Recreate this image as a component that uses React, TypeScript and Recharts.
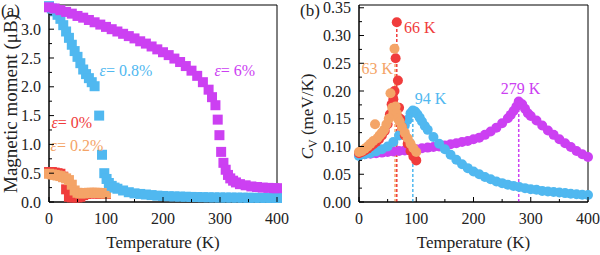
import React from 'react';
import { ScatterChart, Scatter, XAxis, YAxis, ReferenceLine, ReferenceArea, ReferenceDot } from 'recharts';

const FONT = "'Liberation Serif', 'Times New Roman', serif";
const PURPLE = '#CC40F2';
const BLUE = '#50B8F0';
const RED = '#F03C3C';
const ORANGE = '#F4A467';
const INK = '#222';

// (a) magnetic moment (muB) vs temperature (K)
const tempM6 = [0, 10, 20, 30, 40, 50, 60, 70, 80, 90, 100, 110, 120, 130, 140, 150, 160, 170, 180, 190, 200, 210, 220, 230, 240, 250, 260, 270, 280, 286, 292, 296, 299, 302, 306, 310, 314, 318, 323, 328, 335, 345, 355, 365, 375, 385, 395, 400];
const momentM6 = [3.38, 3.36, 3.33, 3.3, 3.27, 3.23, 3.2, 3.16, 3.12, 3.08, 3.04, 3.0, 2.96, 2.92, 2.88, 2.84, 2.79, 2.75, 2.7, 2.65, 2.6, 2.55, 2.49, 2.43, 2.36, 2.28, 2.19, 2.08, 1.95, 1.82, 1.68, 1.43, 1.16, 0.87, 0.68, 0.56, 0.47, 0.41, 0.37, 0.34, 0.31, 0.29, 0.27, 0.26, 0.25, 0.245, 0.24, 0.24];

const tempM08 = [0, 5, 10, 15, 20, 25, 30, 35, 40, 45, 50, 55, 60, 65, 70, 75, 80, 88, 93, 97, 101, 105, 110, 115, 120, 130, 140, 150, 160, 170, 180, 190, 200, 210, 220, 230, 240, 250, 260, 270, 280, 290, 300, 310, 320, 330, 340, 350, 360, 370, 380, 390, 400];
const momentM08 = [3.4, 3.36, 3.31, 3.25, 3.18, 3.07, 2.96, 2.85, 2.73, 2.62, 2.52, 2.41, 2.3, 2.22, 2.15, 2.08, 2.01, 1.5, 0.82, 0.5, 0.4, 0.33, 0.28, 0.25, 0.23, 0.2, 0.17, 0.15, 0.14, 0.13, 0.12, 0.11, 0.105, 0.1, 0.097, 0.094, 0.091, 0.088, 0.086, 0.084, 0.082, 0.08, 0.079, 0.078, 0.077, 0.076, 0.075, 0.074, 0.073, 0.072, 0.071, 0.07, 0.07];

const tempM0 = [0, 5, 10, 15, 20, 25, 30, 35, 40, 45, 50, 55, 60, 65, 70, 75, 80, 85, 90, 95, 100];
const momentM0 = [0.52, 0.52, 0.51, 0.5, 0.49, 0.44, 0.22, 0.09, 0.08, 0.08, 0.08, 0.09, 0.12, 0.14, 0.15, 0.15, 0.15, 0.15, 0.145, 0.14, 0.14];

const tempM02 = [0, 5, 10, 15, 20, 25, 30, 35, 40, 45, 50, 55, 60, 65, 70, 75, 80, 85, 90, 95, 100];
const momentM02 = [0.49, 0.48, 0.47, 0.46, 0.45, 0.43, 0.41, 0.38, 0.3, 0.2, 0.16, 0.15, 0.15, 0.155, 0.16, 0.16, 0.16, 0.16, 0.155, 0.15, 0.15];

// (b) specific heat (meV/K) vs temperature (K)
const tempCv6 = [0, 10, 20, 30, 40, 50, 60, 70, 80, 90, 100, 110, 120, 130, 140, 150, 160, 170, 180, 190, 200, 210, 220, 230, 240, 250, 260, 265, 270, 275, 279, 285, 290, 295, 300, 310, 320, 330, 340, 350, 360, 370, 380, 390, 400];
const cv6 = [0.085, 0.086, 0.087, 0.088, 0.089, 0.09, 0.091, 0.092, 0.093, 0.094, 0.095, 0.097, 0.098, 0.099, 0.1, 0.102, 0.104, 0.106, 0.108, 0.11, 0.113, 0.116, 0.121, 0.127, 0.134, 0.142, 0.151, 0.157, 0.164, 0.172, 0.181, 0.176, 0.168, 0.16, 0.155, 0.147, 0.138, 0.129, 0.121, 0.113, 0.106, 0.099, 0.092, 0.086, 0.081];

const tempCv08 = [0, 10, 20, 30, 40, 50, 60, 70, 80, 85, 90, 94, 98, 102, 106, 110, 115, 120, 130, 140, 150, 160, 170, 180, 190, 200, 210, 220, 230, 240, 250, 260, 270, 280, 290, 300, 310, 320, 330, 340, 350, 360, 370, 380, 390, 400];
const cv08 = [0.083, 0.086, 0.088, 0.091, 0.095, 0.1, 0.108, 0.12, 0.138, 0.148, 0.16, 0.165, 0.163, 0.158, 0.152, 0.145, 0.137, 0.13, 0.117, 0.105, 0.095, 0.085, 0.076, 0.068, 0.061, 0.055, 0.05, 0.045, 0.041, 0.037, 0.034, 0.031, 0.029, 0.027, 0.025, 0.023, 0.022, 0.02, 0.019, 0.018, 0.017, 0.016, 0.015, 0.014, 0.013, 0.0125];

const tempCv0 = [0, 5, 10, 15, 20, 25, 30, 35, 40, 45, 50, 54, 57, 60, 62, 64, 66, 68, 70, 72, 75, 80, 85, 90, 95, 100];
const cv0 = [0.088, 0.09, 0.093, 0.096, 0.1, 0.104, 0.108, 0.113, 0.12, 0.128, 0.14, 0.158, 0.176, 0.185, 0.2, 0.259, 0.324, 0.219, 0.17, 0.15, 0.135, 0.12, 0.105, 0.092, 0.082, 0.075];

const tempCv02 = [0, 5, 10, 15, 20, 25, 28, 32, 36, 40, 44, 48, 52, 55, 58, 60, 62, 64, 66, 68, 71, 75, 80, 85, 90, 95, 100];
const cv02 = [0.09, 0.092, 0.096, 0.1, 0.105, 0.11, 0.14, 0.115, 0.12, 0.125, 0.13, 0.14, 0.15, 0.196, 0.17, 0.16, 0.276, 0.172, 0.16, 0.15, 0.145, 0.135, 0.125, 0.115, 0.105, 0.097, 0.09];

// transition temperatures and peak heights
const peakTemps = [66, 63, 94, 279];
const peakCv = [0.324, 0.276, 0.165, 0.181];
const peakNames = ['66 K', '63 K', '94 K', '279 K'];
const peakColors = [RED, ORANGE, BLUE, PURPLE];

const tempTicks = [0, 50, 100, 150, 200, 250, 300, 350, 400];
const momentTicks = [0, 0.25, 0.5, 0.75, 1, 1.25, 1.5, 1.75, 2, 2.25, 2.5, 2.75, 3, 3.25];
const cvTicks = [0, 0.025, 0.05, 0.075, 0.1, 0.125, 0.15, 0.175, 0.2, 0.225, 0.25, 0.275, 0.3, 0.325, 0.35];

// label anchors (data coordinates)
const strainLabels = [
  { x: 135, y: 2.29, text: '0.8%', color: BLUE },
  { x: 326, y: 2.29, text: '6%', color: PURPLE },
  { x: 40, y: 1.38, text: '0%', color: RED },
  { x: 49, y: 0.99, text: '0.2%', color: ORANGE },
];
const peakLabelPos = [
  { x: 106, y: 0.315 },
  { x: 32, y: 0.24 },
  { x: 125, y: 0.187 },
  { x: 282, y: 0.204 },
];

const pts = (xs: number[], ys: number[]) => xs.map((x, i) => ({ x, y: ys[i] }));

const isMajor = (v: number, step: number) => Math.abs(v / step - Math.round(v / step)) < 1e-6;

const txt = (size: number, color = INK) => ({ fontFamily: FONT, fontSize: size, fill: color });

const Square = (p: any) => <rect x={p.cx - 5} y={p.cy - 5} width={10} height={10} fill={p.fill} />;
const Dot = (p: any) => <circle cx={p.cx} cy={p.cy} r={5} fill={p.fill} />;

const XTick = (p: any) => {
  const major = isMajor(p.payload.value, 100);
  return (
    <g>
      <line x1={p.x} x2={p.x} y1={p.y} y2={p.y - (major ? 5 : 3)} stroke="#000" />
      {major && (
        <text x={p.x} y={p.y + 16} dy="0.35em" textAnchor="middle" style={txt(16)}>
          {p.payload.value}
        </text>
      )}
    </g>
  );
};

const makeYTick = (step: number, digits: number) => (p: any) => {
  const major = isMajor(p.payload.value, step);
  return (
    <g>
      <line x1={p.x} x2={p.x + (major ? 5 : 3)} y1={p.y} y2={p.y} stroke="#000" />
      {major && (
        <text x={p.x - 8} y={p.y} dy="0.35em" textAnchor="end" style={txt(16)}>
          {p.payload.value.toFixed(digits)}
        </text>
      )}
    </g>
  );
};

const momentTick = makeYTick(0.5, 1);
const cvTick = makeYTick(0.05, 2);

const TempTitle = (p: any) => {
  const vb = p.viewBox;
  return (
    <text x={vb.x + vb.width / 2} y={vb.y + vb.height - 7} textAnchor="middle" style={txt(17)}>
      Temperature (K)
    </text>
  );
};

const MomentTitle = (p: any) => {
  const vb = p.viewBox;
  const x = vb.x + 10;
  const y = vb.y + vb.height / 2;
  return (
    <text x={x} y={y} dy="0.35em" transform={`rotate(-90, ${x}, ${y})`} textAnchor="middle" style={txt(19)}>
      Magnetic moment (μB)
    </text>
  );
};

const CvTitle = (p: any) => {
  const vb = p.viewBox;
  const x = vb.x + 7;
  const y = vb.y + vb.height / 2 + 13;
  return (
    <text x={x} y={y} dy="0.35em" transform={`rotate(-90, ${x}, ${y})`} textAnchor="middle" style={txt(17)}>
      <tspan style={{ fontStyle: 'italic' }}>C</tspan>
      <tspan style={{ fontSize: 12 }} dy={4}>V</tspan>
      <tspan dy={-4}> (meV/K)</tspan>
    </text>
  );
};

const strainText = (text: string, color: string) => (p: any) => {
  const vb = p.viewBox;
  return (
    <text x={vb.x + vb.width / 2} y={vb.y + vb.height / 2} dy="0.35em" textAnchor="middle" style={txt(16, color)}>
      <tspan style={{ fontStyle: 'italic' }}>ε</tspan>= {text}
    </text>
  );
};

const plainText = (text: string, color: string) => (p: any) => {
  const vb = p.viewBox;
  return (
    <text x={vb.x + vb.width / 2} y={vb.y + vb.height / 2} dy="0.35em" textAnchor="middle" style={txt(16, color)}>
      {text}
    </text>
  );
};

const MomentPanel = () => (
  <ScatterChart width={300} height={255} margin={{ top: 5, right: 23, bottom: 0, left: 0 }}>
    <ReferenceArea x1={0} x2={400} y1={0} y2={3.42} fill="none" stroke="#000" />
    <XAxis type="number" dataKey="x" domain={[0, 400]} ticks={tempTicks} interval={0} height={53}
      tickSize={0} tickMargin={0} tickLine={false} tick={XTick} axisLine={{ stroke: '#000' }}
      label={{ content: TempTitle }} />
    <YAxis type="number" dataKey="y" domain={[0, 3.42]} ticks={momentTicks} interval={0} width={49}
      tickSize={0} tickMargin={0} tickLine={false} tick={momentTick} axisLine={{ stroke: '#000' }}
      label={{ content: MomentTitle }} />
    <Scatter data={pts(tempM0, momentM0)} fill={RED} shape={Square} isAnimationActive={false} />
    <Scatter data={pts(tempM02, momentM02)} fill={ORANGE} shape={Square} isAnimationActive={false} />
    <Scatter data={pts(tempM08, momentM08)} fill={BLUE} shape={Square} isAnimationActive={false} />
    <Scatter data={pts(tempM6, momentM6)} fill={PURPLE} shape={Square} isAnimationActive={false} />
    {strainLabels.map((s) => (
      <ReferenceDot key={s.text} x={s.x} y={s.y} r={0} fill="none" stroke="none" label={{ content: strainText(s.text, s.color) }} />
    ))}
  </ScatterChart>
);

const CvPanel = () => (
  <ScatterChart width={310} height={255} margin={{ top: 5, right: 12, bottom: 0, left: 10 }}>
    <ReferenceArea x1={0} x2={400} y1={0} y2={0.355} fill="none" stroke="#000" />
    <XAxis type="number" dataKey="x" domain={[0, 400]} ticks={tempTicks} interval={0} height={53}
      tickSize={0} tickMargin={0} tickLine={false} tick={XTick} axisLine={{ stroke: '#000' }}
      label={{ content: TempTitle }} />
    <YAxis type="number" dataKey="y" domain={[0, 0.355]} ticks={cvTicks} interval={0} width={59}
      tickSize={0} tickMargin={0} tickLine={false} tick={cvTick} axisLine={{ stroke: '#000' }}
      label={{ content: CvTitle }} />
    <Scatter data={pts(tempCv6, cv6)} fill={PURPLE} shape={Dot} isAnimationActive={false} />
    <Scatter data={pts(tempCv08, cv08)} fill={BLUE} shape={Dot} isAnimationActive={false} />
    <Scatter data={pts(tempCv0, cv0)} fill={RED} shape={Dot} isAnimationActive={false} />
    <Scatter data={pts(tempCv02, cv02)} fill={ORANGE} shape={Dot} isAnimationActive={false} />
    {peakTemps.map((t, i) => (
      <ReferenceLine key={'l' + t} segment={[{ x: t, y: 0 }, { x: t, y: peakCv[i] }]} stroke={peakColors[i]}
        strokeDasharray="3 2" strokeWidth={1.5} />
    ))}
    {peakTemps.map((t, i) => (
      <ReferenceDot key={'d' + t} x={peakLabelPos[i].x} y={peakLabelPos[i].y} r={0} fill="none" stroke="none"
        label={{ content: plainText(peakNames[i], peakColors[i]) }} />
    ))}
  </ScatterChart>
);

export default function App() {
  return (
    <div style={{ position: 'absolute', left: 0, top: 0, width: 600, height: 255, background: '#fff', fontFamily: FONT }}>
      <div style={{ position: 'absolute', left: 0, top: 0 }}>
        <MomentPanel />
      </div>
      <div style={{ position: 'absolute', left: 290, top: 0 }}>
        <CvPanel />
      </div>
      <span style={{ position: 'absolute', left: 1, top: 2, fontSize: 17, lineHeight: '17px', color: INK }}>(a)</span>
      <span style={{ position: 'absolute', left: 300, top: 2, fontSize: 17, lineHeight: '17px', color: INK }}>(b)</span>
    </div>
  );
}
